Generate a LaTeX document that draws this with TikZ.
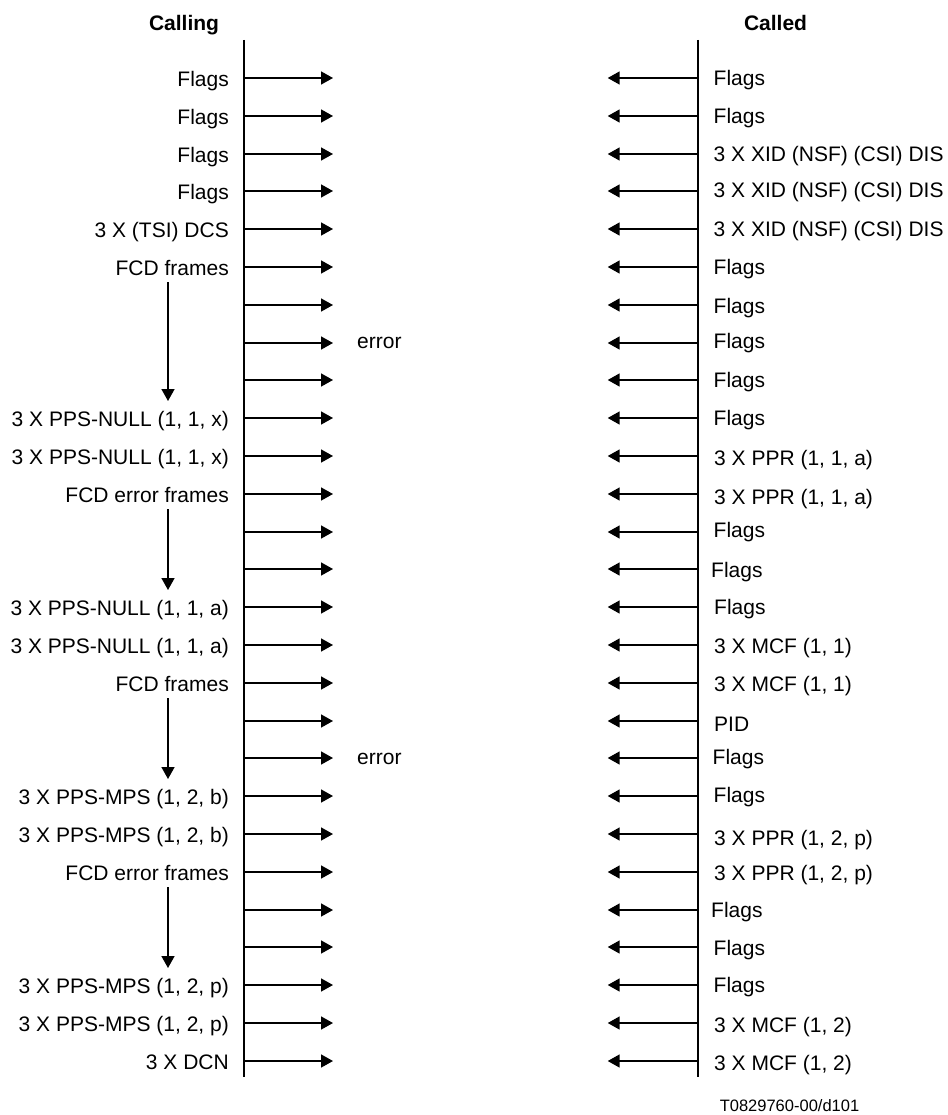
\documentclass[tikz,border=0pt]{standalone}
\usepackage{fontspec}
\setmainfont{Liberation Sans}
\usetikzlibrary{arrows.meta}
\newcommand\lblsize{\fontsize{21}{24}\selectfont}
\tikzset{
  lifeline/.style={line width=1.8pt},
  msg/.style={line width=1.6pt,-{Triangle[length=12pt,width=13pt]}},
  leftlbl/.style={font=\lblsize,inner sep=0pt,anchor=base east},
  rightlbl/.style={font=\lblsize,inner sep=0pt,anchor=base west},
  titlelbl/.style={font=\lblsize\bfseries,inner sep=0pt,anchor=base},
  footlbl/.style={font=\fontsize{16.5}{20}\selectfont,inner sep=0pt,anchor=base},
}
\newcommand\rowy[1]{round(78+(#1-1)*37.8)}
\newcommand\sendrow[1]{%
  \coordinate (cl#1) at (244,{\rowy{#1}});
  \coordinate (cle#1) at (333,{\rowy{#1}});
  \coordinate (cr#1) at (697.7,{\rowy{#1}});
  \coordinate (cre#1) at (607.7,{\rowy{#1}});
  \draw[msg] (cl#1) -- (cle#1);
  \draw[msg] (cr#1) -- (cre#1);}
\newcommand\lefttext[2]{\node[leftlbl] (lt#1) at (229,{\rowy{#1}+8.7}) {#2};}
\newcommand\righttext[4]{\node[rightlbl] (rt#1) at (#2,{\rowy{#1}+#3}) {#4};}
\begin{document}
\begin{tikzpicture}[x=1pt,y=-1pt]
\useasboundingbox (0,0) rectangle (947,1115);
% titles
\node[titlelbl] (calling) at (184,30.5) {Calling};
\node[titlelbl] (called) at (775.5,30.5) {Called};
% lifelines
\coordinate (topL) at (244,40);
\coordinate (botL) at (244,1077);
\coordinate (topR) at (697.7,40);
\coordinate (botR) at (697.7,1077);
\draw[lifeline] (topL) -- (botL);
\draw[lifeline] (topR) -- (botR);
% message rows
\foreach \i in {1,...,27} {\sendrow{\i}}
% left labels
\lefttext{1}{Flags}
\lefttext{2}{Flags}
\lefttext{3}{Flags}
\lefttext{4}{Flags}
\lefttext{5}{3 X (TSI) DCS}
\lefttext{6}{FCD frames}
\lefttext{10}{3 X PPS-NULL (1, 1, x)}
\lefttext{11}{3 X PPS-NULL (1, 1, x)}
\lefttext{12}{FCD error frames}
\lefttext{15}{3 X PPS-NULL (1, 1, a)}
\lefttext{16}{3 X PPS-NULL (1, 1, a)}
\lefttext{17}{FCD frames}
\lefttext{20}{3 X PPS-MPS (1, 2, b)}
\lefttext{21}{3 X PPS-MPS (1, 2, b)}
\lefttext{22}{FCD error frames}
\lefttext{25}{3 X PPS-MPS (1, 2, p)}
\lefttext{26}{3 X PPS-MPS (1, 2, p)}
\lefttext{27}{3 X DCN}
% right labels
\righttext{1}{713.5}{8}{Flags}
\righttext{2}{713.5}{7.3}{Flags}
\righttext{3}{713.5}{7.7}{3 X XID (NSF) (CSI) DIS}
\righttext{4}{713.5}{7}{3 X XID (NSF) (CSI) DIS}
\righttext{5}{713.5}{7.4}{3 X XID (NSF) (CSI) DIS}
\righttext{6}{713.5}{7}{Flags}
\righttext{7}{713.5}{8.3}{Flags}
\righttext{8}{713.5}{5.7}{Flags}
\righttext{9}{713.5}{7.3}{Flags}
\righttext{10}{713.5}{7.7}{Flags}
\righttext{11}{714}{9.7}{3 X PPR (1, 1, a)}
\righttext{12}{714}{10}{3 X PPR (1, 1, a)}
\righttext{13}{713.5}{5}{Flags}
\righttext{14}{711}{8.3}{Flags}
\righttext{15}{714}{7}{Flags}
\righttext{16}{714}{8.3}{3 X MCF (1, 1)}
\righttext{17}{714}{8.7}{3 X MCF (1, 1)}
\righttext{18}{714}{10.7}{PID}
\righttext{19}{712.5}{6.7}{Flags}
\righttext{20}{713.5}{6.6}{Flags}
\righttext{21}{714}{11}{3 X PPR (1, 2, p)}
\righttext{22}{714}{8.4}{3 X PPR (1, 2, p)}
\righttext{23}{711}{7.7}{Flags}
\righttext{24}{713.5}{8}{Flags}
\righttext{25}{713.5}{7.7}{Flags}
\righttext{26}{714}{9}{3 X MCF (1, 2)}
\righttext{27}{714}{9}{3 X MCF (1, 2)}
% error labels
\node[rightlbl] (err1) at (357,{\rowy{8}+5.7}) {error};
\node[rightlbl] (err2) at (357,{\rowy{19}+6.7}) {error};
% vertical progress arrows
\coordinate (v1s) at (168,282);
\coordinate (v1e) at (168,401);
\coordinate (v2s) at (168,509);
\coordinate (v2e) at (168,590);
\coordinate (v3s) at (168,698);
\coordinate (v3e) at (168,779);
\coordinate (v4s) at (168,887);
\coordinate (v4e) at (168,968);
\draw[msg] (v1s) -- (v1e);
\draw[msg] (v2s) -- (v2e);
\draw[msg] (v3s) -- (v3e);
\draw[msg] (v4s) -- (v4e);
% footer
\node[footlbl] (fig) at (789.5,1111) {T0829760-00/d101};
\end{tikzpicture}
\end{document}
